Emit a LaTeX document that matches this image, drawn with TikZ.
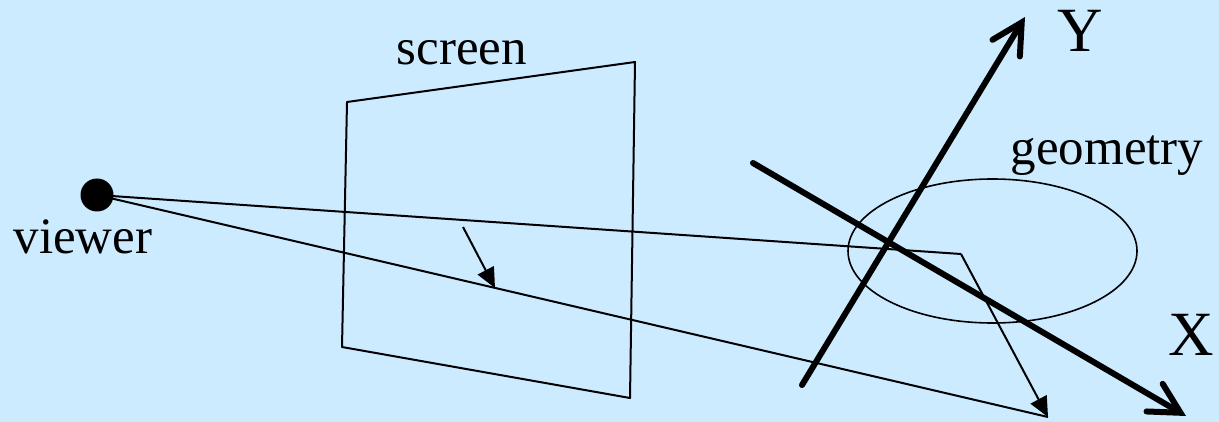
\documentclass[tikz,border=0pt]{standalone}
\usepackage{fontspec}
\setmainfont{Liberation Serif}
\usetikzlibrary{arrows.meta,shapes.geometric}
\definecolor{sky}{HTML}{CCEBFF}
\definecolor{ink}{HTML}{000000}

\begin{document}
\begin{tikzpicture}[x=0.5pt,y=-0.5pt,line join=round,
 label/.style={anchor=base,inner sep=0pt,text=ink,font=\fontsize{25.5}{30}\selectfont},
 axislabel/.style={anchor=base,inner sep=0pt,text=ink,font=\fontsize{31.5}{36}\selectfont},
 ray/.style={draw=ink,line width=1pt},
 probe/.style={ray,-{Triangle[length=10pt,width=9pt]}},
 axis/.style={draw=ink,line width=3pt,line cap=round,-{Straight Barb[length=15pt,width=16pt,line cap=round]}}]
 \fill[sky] (0,0) rectangle (1219,422);
 % eye point and image plane
 \node[circle,fill=ink,inner sep=0pt,minimum size=16.5pt] (viewer) at (97,195) {};
 \node[label] (viewerlabel) at (83,253) {viewer};
 \coordinate (s1) at (347,102); \coordinate (s2) at (635,62);
 \coordinate (s3) at (630,398); \coordinate (s4) at (342,347);
 \draw[ray] (s1)--(s2)--(s3)--(s4)--cycle;
 \node[label] (screenlabel) at (462,65) {screen};
 % object and its axes
 \node[ellipse,draw=ink,line width=0.8pt,minimum width=144.5pt,minimum height=72pt,inner sep=0pt] (geom) at (992.5,251) {};
 \node[label] (geomlabel) at (1107,165) {geometry};
 \coordinate (ybase) at (802,385); \coordinate (ytip) at (1025,17);
 \coordinate (xbase) at (753,163); \coordinate (xtip) at (1186,416);
 \draw[axis] (ybase)--(ytip);
 \draw[axis] (xbase)--(xtip);
 \node[axislabel] (ylabel) at (1080,52) {Y};
 \node[axislabel] (xlabel) at (1191,355) {X};
 % rays
 \coordinate (hit) at (961,254); \coordinate (bounce) at (1048,417);
 \draw[ray] (viewer.center)--(hit);
 \draw[probe] (hit)--(bounce);
 \draw[ray] (viewer.center)--(bounce);
 \coordinate (mstart) at (463,227); \coordinate (mend) at (495,288);
 \draw[probe] (mstart)--(mend);
\end{tikzpicture}
\end{document}
